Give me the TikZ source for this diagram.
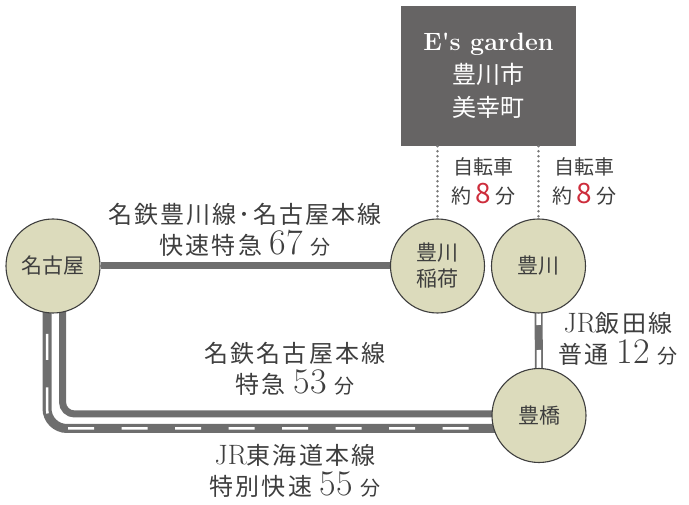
\documentclass[tikz,border=0pt]{standalone}
\usepackage{fontspec}
\newfontfamily\jp{Noto Sans CJK JP}
\newfontfamily\jpwide[LetterSpace=9]{Noto Sans CJK JP}
\usetikzlibrary{backgrounds}

\definecolor{trackgray}{RGB}{110,110,110}
\definecolor{dotgray}{RGB}{120,120,120}
\definecolor{boxgray}{RGB}{102,100,100}
\definecolor{stationfill}{RGB}{220,219,188}
\definecolor{inkgray}{RGB}{62,62,62}
\definecolor{minred}{RGB}{205,45,60}

\begin{document}
\begin{tikzpicture}[x=1pt, y=-1pt,
  station/.style={circle, draw=inkgray, line width=1.1pt, fill=stationfill, minimum size=94pt,
    inner sep=0pt, text=inkgray, align=center, font=\jp\fontsize{21}{26}\selectfont},
  site/.style={fill=boxgray, minimum width=175pt, minimum height=140pt, text=white,
    align=center, font=\jp\fontsize{24}{33}\selectfont},
  lbl/.style={text=inkgray, align=center, font=\jpwide\fontsize{24}{31}\selectfont},
  bikelbl/.style={text=inkgray, align=center, font=\jp\fontsize{20}{29}\selectfont},
  meitetsu/.style={draw=trackgray, line width=7pt},
  jr/.style={draw=trackgray, line width=9pt,
    postaction={draw=white, line width=2.5pt, dash pattern=on 26pt off 27.5pt, dash phase=39pt}},
  iida/.style={draw=trackgray, line width=8pt,
    postaction={draw=white, line width=4.5pt, dash pattern=on 25pt off 25pt, dash phase=16pt}},
  bike/.style={draw=dotgray, line width=2.8pt, dash pattern=on 0pt off 5pt, line cap=round}]
\useasboundingbox (0,0) rectangle (689,505);

\def\fun{{\jp\fontsize{20}{20}\selectfont 分}}
\def\mins#1{{\rmfamily\fontsize{36}{36}\selectfont #1}}
\def\jr{{\rmfamily\fontsize{28}{28}\selectfont JR}}

\node[station] (nagoya) at (53,266) {名古屋};
\node[station] (inari) at (437.5,266) {豊川\\稲荷};
\node[station] (toyokawa) at (538.5,266) {豊川};
\node[station] (toyohashi) at (539,415.5) {豊橋};

\node[site] (site) at (488.5,76) {{\rmfamily\bfseries\fontsize{25}{33}\selectfont E\textquotesingle s garden}\\豊川市\\美幸町};

\begin{scope}[on background layer]
\draw[meitetsu] (nagoya) -- (inari);
\draw[meitetsu, rounded corners=12pt] ([xshift=9.5pt]nagoya.center) |- ([yshift=1.5pt]toyohashi.center);
\draw[jr, rounded corners=20pt] ([xshift=-6pt]nagoya.center) |- ([yshift=-13pt]toyohashi.center);
\draw[iida] (toyokawa.center) -- (toyohashi.center);
\end{scope}

\foreach \stn [count=\i] in {inari, toyokawa} {
  \draw[bike] (site.south -| \stn) -- (\stn);
  \node[bikelbl] (bike\i) at ([xshift=46pt, yshift=85pt]\stn.center)
    {自転車\\約 {\color{minred}\fontsize{28}{28}\selectfont 8} 分};
}

\node[lbl] (toyokawaline) at (245,230) {名鉄豊川線･名古屋本線\\快速特急 \mins{67} \fun};
\node[lbl] (nagoyaline) at (295,369) {名鉄名古屋本線\\特急 \mins{53} \fun};
\node[lbl] (tokaidoline) at (295,471) {\jr 東海道本線\\特別快速 \mins{55} \fun};
\node[lbl] (iidaline) at (618,339) {\jr 飯田線\\普通 \mins{12} \fun};
\end{tikzpicture}
\end{document}
